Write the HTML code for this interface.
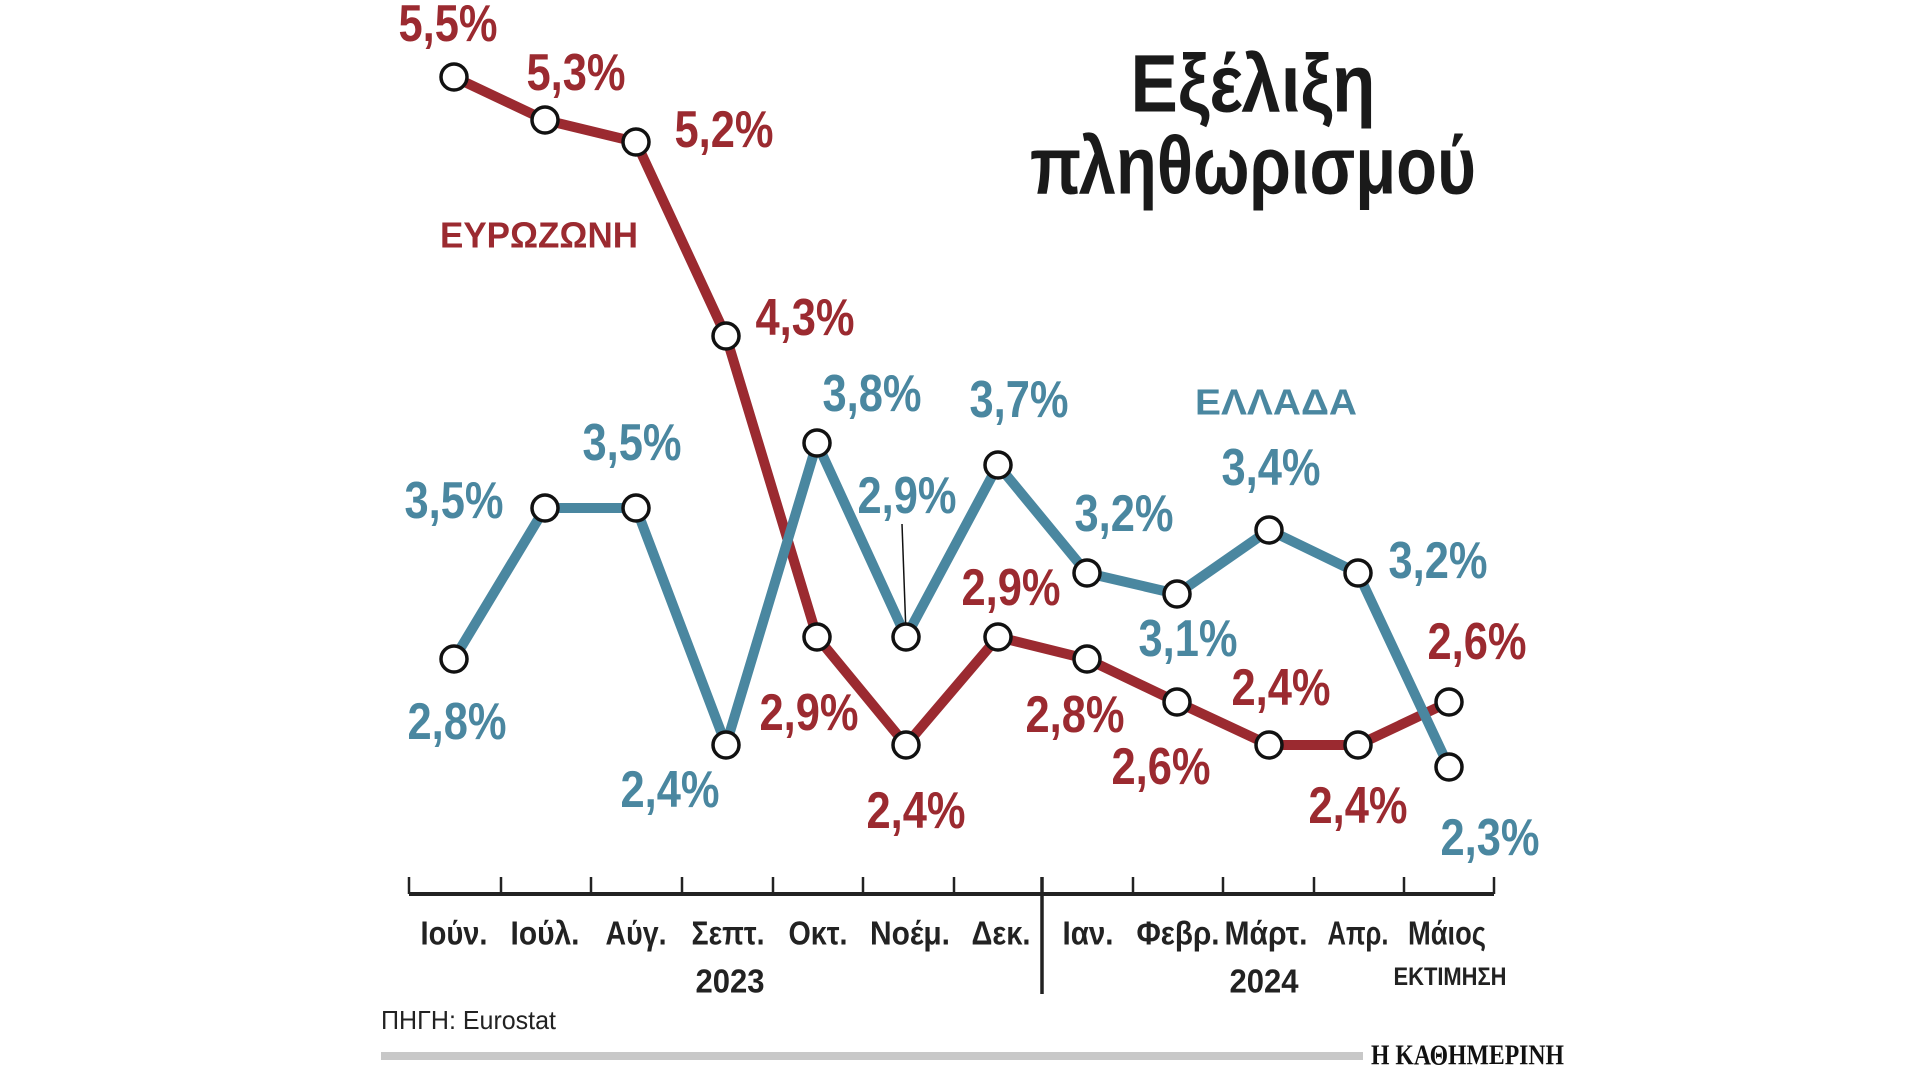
<!DOCTYPE html>
<html><head><meta charset="utf-8"><style>
html,body{margin:0;padding:0;background:#fff;width:1920px;height:1080px;overflow:hidden}
svg{display:block}
text{font-family:"Liberation Sans",sans-serif}
.l{font-weight:bold;font-size:52px;text-anchor:middle;dominant-baseline:central}
.r{fill:#9b2a30}.b{fill:#4a87a0}
.m{font-weight:bold;font-size:33px;fill:#222;text-anchor:middle;dominant-baseline:central}
</style></head><body>
<svg width="1920" height="1080" viewBox="0 0 1920 1080">
<text x="1253" y="84" font-weight="bold" font-size="82" fill="#1a1a1a" text-anchor="middle" dominant-baseline="central" textLength="245" lengthAdjust="spacingAndGlyphs">Εξέλιξη</text>
<text x="1253" y="166" font-weight="bold" font-size="82" fill="#1a1a1a" text-anchor="middle" dominant-baseline="central" textLength="446" lengthAdjust="spacingAndGlyphs">πληθωρισμού</text>
<text x="539" y="235" class="l r" style="font-size:36px" textLength="198" lengthAdjust="spacingAndGlyphs">ΕΥΡΩΖΩΝΗ</text>
<text x="1276" y="402" class="l b" style="font-size:36px" textLength="162" lengthAdjust="spacingAndGlyphs">ΕΛΛΑΔΑ</text>
<line x1="902" y1="524" x2="906" y2="634" stroke="#111" stroke-width="1.5"/>
<polyline fill="none" stroke="#9b2a30" stroke-width="10" stroke-linejoin="round" points="454,77 545,120 636,142 726,336 817,637 906,745 998,637 1087,659 1177,702 1269,745 1358,745 1449,702"/>
<polyline fill="none" stroke="#4a87a0" stroke-width="10" stroke-linejoin="round" points="454,659 545,508 636,508 726,745 817,443 906,637 998,465 1087,573 1177,594 1269,530 1358,573 1449,767"/>
<g fill="#fff" stroke="#111" stroke-width="3.5">
<circle cx="454" cy="77" r="13"/><circle cx="545" cy="120" r="13"/><circle cx="636" cy="142" r="13"/><circle cx="726" cy="336" r="13"/><circle cx="817" cy="637" r="13"/><circle cx="906" cy="745" r="13"/><circle cx="998" cy="637" r="13"/><circle cx="1087" cy="659" r="13"/><circle cx="1177" cy="702" r="13"/><circle cx="1269" cy="745" r="13"/><circle cx="1358" cy="745" r="13"/><circle cx="1449" cy="702" r="13"/>
<circle cx="454" cy="659" r="13"/><circle cx="545" cy="508" r="13"/><circle cx="636" cy="508" r="13"/><circle cx="726" cy="745" r="13"/><circle cx="817" cy="443" r="13"/><circle cx="906" cy="637" r="13"/><circle cx="998" cy="465" r="13"/><circle cx="1087" cy="573" r="13"/><circle cx="1177" cy="594" r="13"/><circle cx="1269" cy="530" r="13"/><circle cx="1358" cy="573" r="13"/><circle cx="1449" cy="767" r="13"/>
</g>
<g class="l r">
<text x="448" y="24" textLength="99" lengthAdjust="spacingAndGlyphs">5,5%</text><text x="576" y="73" textLength="99" lengthAdjust="spacingAndGlyphs">5,3%</text><text x="724" y="130" textLength="99" lengthAdjust="spacingAndGlyphs">5,2%</text><text x="805" y="318" textLength="99" lengthAdjust="spacingAndGlyphs">4,3%</text><text x="809" y="713" textLength="99" lengthAdjust="spacingAndGlyphs">2,9%</text><text x="916" y="811" textLength="99" lengthAdjust="spacingAndGlyphs">2,4%</text><text x="1011" y="588" textLength="99" lengthAdjust="spacingAndGlyphs">2,9%</text><text x="1075" y="715" textLength="99" lengthAdjust="spacingAndGlyphs">2,8%</text><text x="1161" y="767" textLength="99" lengthAdjust="spacingAndGlyphs">2,6%</text><text x="1281" y="688" textLength="99" lengthAdjust="spacingAndGlyphs">2,4%</text><text x="1358" y="806" textLength="99" lengthAdjust="spacingAndGlyphs">2,4%</text><text x="1477" y="642" textLength="99" lengthAdjust="spacingAndGlyphs">2,6%</text>
</g>
<g class="l b">
<text x="454" y="501" textLength="99" lengthAdjust="spacingAndGlyphs">3,5%</text><text x="632" y="443" textLength="99" lengthAdjust="spacingAndGlyphs">3,5%</text><text x="457" y="722" textLength="99" lengthAdjust="spacingAndGlyphs">2,8%</text><text x="670" y="790" textLength="99" lengthAdjust="spacingAndGlyphs">2,4%</text><text x="872" y="394" textLength="99" lengthAdjust="spacingAndGlyphs">3,8%</text><text x="907" y="496" textLength="99" lengthAdjust="spacingAndGlyphs">2,9%</text><text x="1019" y="400" textLength="99" lengthAdjust="spacingAndGlyphs">3,7%</text><text x="1124" y="514" textLength="99" lengthAdjust="spacingAndGlyphs">3,2%</text><text x="1188" y="639" textLength="99" lengthAdjust="spacingAndGlyphs">3,1%</text><text x="1271" y="468" textLength="99" lengthAdjust="spacingAndGlyphs">3,4%</text><text x="1438" y="561" textLength="99" lengthAdjust="spacingAndGlyphs">3,2%</text><text x="1490" y="838" textLength="99" lengthAdjust="spacingAndGlyphs">2,3%</text>
</g>
<g stroke="#222" stroke-width="2.5">
<line x1="409" y1="894" x2="1494" y2="894" stroke-width="4"/>
<line x1="409" y1="877" x2="409" y2="894"/><line x1="501" y1="877" x2="501" y2="894"/><line x1="591" y1="877" x2="591" y2="894"/><line x1="682" y1="877" x2="682" y2="894"/><line x1="773" y1="877" x2="773" y2="894"/><line x1="863" y1="877" x2="863" y2="894"/><line x1="954" y1="877" x2="954" y2="894"/><line x1="1042" y1="877" x2="1042" y2="994" stroke-width="3.5"/><line x1="1133" y1="877" x2="1133" y2="894"/><line x1="1223" y1="877" x2="1223" y2="894"/><line x1="1314" y1="877" x2="1314" y2="894"/><line x1="1404" y1="877" x2="1404" y2="894"/><line x1="1494" y1="877" x2="1494" y2="894"/>
</g>
<g class="m">
<text x="454" y="933" textLength="67" lengthAdjust="spacingAndGlyphs">Ιούν.</text><text x="545" y="933" textLength="69" lengthAdjust="spacingAndGlyphs">Ιούλ.</text><text x="636" y="933" textLength="61" lengthAdjust="spacingAndGlyphs">Αύγ.</text><text x="728" y="933" textLength="73" lengthAdjust="spacingAndGlyphs">Σεπτ.</text><text x="818" y="933" textLength="59" lengthAdjust="spacingAndGlyphs">Οκτ.</text><text x="910" y="933" textLength="80" lengthAdjust="spacingAndGlyphs">Νοέμ.</text><text x="1001" y="933" textLength="59" lengthAdjust="spacingAndGlyphs">Δεκ.</text><text x="1088" y="933" textLength="51" lengthAdjust="spacingAndGlyphs">Ιαν.</text><text x="1178" y="933" textLength="83" lengthAdjust="spacingAndGlyphs">Φεβρ.</text><text x="1266" y="933" textLength="83" lengthAdjust="spacingAndGlyphs">Μάρτ.</text><text x="1358" y="933" textLength="61" lengthAdjust="spacingAndGlyphs">Απρ.</text><text x="1447" y="933" textLength="78" lengthAdjust="spacingAndGlyphs">Μάιος</text>
<text x="730" y="981" textLength="69" lengthAdjust="spacingAndGlyphs">2023</text><text x="1264" y="981" textLength="69" lengthAdjust="spacingAndGlyphs">2024</text>
<text x="1450" y="977" style="font-size:25px" textLength="113" lengthAdjust="spacingAndGlyphs">ΕΚΤΙΜΗΣΗ</text>
</g>
<text x="381" y="1020" font-size="26" fill="#222" dominant-baseline="central" textLength="175" lengthAdjust="spacingAndGlyphs">ΠΗΓΗ: Eurostat</text>
<rect x="381" y="1052" width="982" height="8" fill="#c8c8c8"/>
<text x="1371" y="1056" style="font-family:'Liberation Serif',serif;font-weight:bold" font-size="28" fill="#111" dominant-baseline="central" textLength="193" lengthAdjust="spacingAndGlyphs">Η ΚΑΘΗΜΕΡΙΝΗ</text>
</svg>
</body></html>
